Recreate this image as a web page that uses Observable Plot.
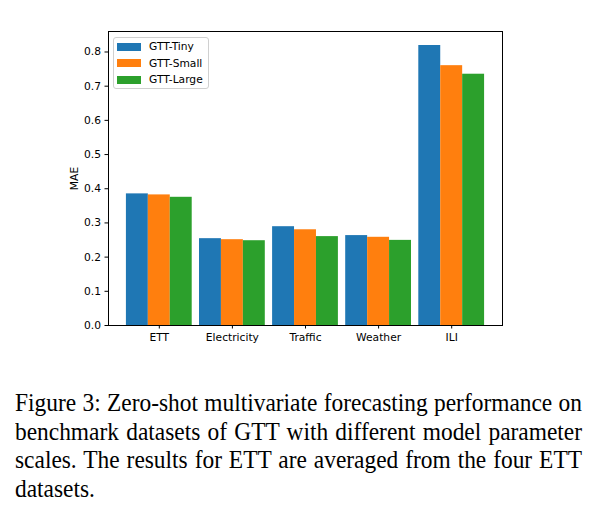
<!DOCTYPE html>
<html>
<head>
<meta charset="utf-8">
<script src="https://cdn.jsdelivr.net/npm/d3@7"></script>
<script src="https://cdn.jsdelivr.net/npm/@observablehq/plot@0.6"></script>
<style>
  html, body { margin: 0; padding: 0; background: #fff; }
  #wrap { position: relative; width: 600px; height: 530px; overflow: hidden; }
  #legend { position: absolute; left: 113px; top: 37px; width: 96px; height: 52px;
    border: 1px solid #d0d0d0; border-radius: 3px; background: rgba(255,255,255,0.8);
    font-family: "DejaVu Sans", sans-serif; font-size: 10.7px; color: #000; box-sizing: border-box; }
  .row { position: absolute; left: 3px; height: 12px; display: flex; align-items: center; }
  .sw { width: 24px; height: 8px; margin-right: 8px; }
  #caption { position: absolute; left: 15px; top: 389px; width: 630px;
    transform: scaleX(0.9); transform-origin: 0 0;
    font-family: "Liberation Serif", "Times New Roman", serif; font-size: 26px; line-height: 28.7px; color: #000; }
  #caption div { text-align: justify; text-align-last: justify; white-space: nowrap; }
  #caption div.last { text-align-last: left; }
</style>
</head>
<body>
<div id="wrap">
  <div id="chart"></div>
  <div id="legend"></div>
  <div id="caption"></div>
</div>
<script>
const categories = ["ETT", "Electricity", "Traffic", "Weather", "ILI"];
const series = ["GTT-Tiny", "GTT-Small", "GTT-Large"];
const colors = ["#1f77b4", "#ff7f0e", "#2ca02c"];
const tinyValues  = [0.385, 0.254, 0.289, 0.263, 0.819];
const smallValues = [0.382, 0.251, 0.280, 0.258, 0.760];
const largeValues = [0.375, 0.248, 0.260, 0.249, 0.735];
const yTicks = [0, 0.1, 0.2, 0.3, 0.4, 0.5, 0.6, 0.7, 0.8];
const yLabel = "MAE";
const captionLines = [
  "Figure 3: Zero-shot multivariate forecasting performance on",
  "benchmark datasets of GTT with different model parameter",
  "scales. The results for ETT are averaged from the four ETT",
  "datasets."
];

const valuesBySeries = [tinyValues, smallValues, largeValues];
const barWidth = 0.3;
const rows = [];
series.forEach((s, j) => {
  categories.forEach((c, i) => {
    const x1 = i + (j - 1) * barWidth - barWidth / 2;
    rows.push({category: c, series: s, value: valuesBySeries[j][i], x1, x2: x1 + barWidth});
  });
});

const n = categories.length;
const lo = -1.5 * barWidth, hi = (n - 1) + 1.5 * barWidth;
const pad = (hi - lo) * 0.05;
const yMax = d3.max(rows, d => d.value) * 1.05;

const chart = Plot.plot({
  width: 600,
  height: 360,
  marginLeft: 108,
  marginRight: 98,
  marginTop: 31,
  marginBottom: 35,
  style: {fontFamily: "DejaVu Sans, sans-serif", fontSize: "10.7px", color: "#000", background: "#fff"},
  x: {type: "linear", domain: [lo - pad, hi + pad], ticks: d3.range(n), tickFormat: i => categories[i],
      tickSize: 3.5, tickPadding: 4, label: null},
  y: {domain: [0, yMax], ticks: yTicks, tickFormat: ".1f", tickSize: 3.5, tickPadding: 4,
      label: yLabel, labelAnchor: "center", labelOffset: 38, labelArrow: "none"},
  color: {domain: series, range: colors},
  marks: [
    Plot.rectY(rows, {x1: "x1", x2: "x2", y: "value", fill: "series"}),
    Plot.frame({stroke: "#000", strokeWidth: 1})
  ]
});
document.getElementById("chart").appendChild(chart);

const legend = document.getElementById("legend");
series.forEach((s, j) => {
  const r = document.createElement("div");
  r.className = "row";
  r.style.top = (2.5 + j * 16.6) + "px";
  r.innerHTML = `<div class="sw" style="background:${colors[j]}"></div><span>${s}</span>`;
  legend.appendChild(r);
});

const cap = document.getElementById("caption");
captionLines.forEach((t, k) => {
  const d = document.createElement("div");
  d.textContent = t;
  if (k === captionLines.length - 1) d.className = "last";
  cap.appendChild(d);
});
</script>
</body>
</html>
